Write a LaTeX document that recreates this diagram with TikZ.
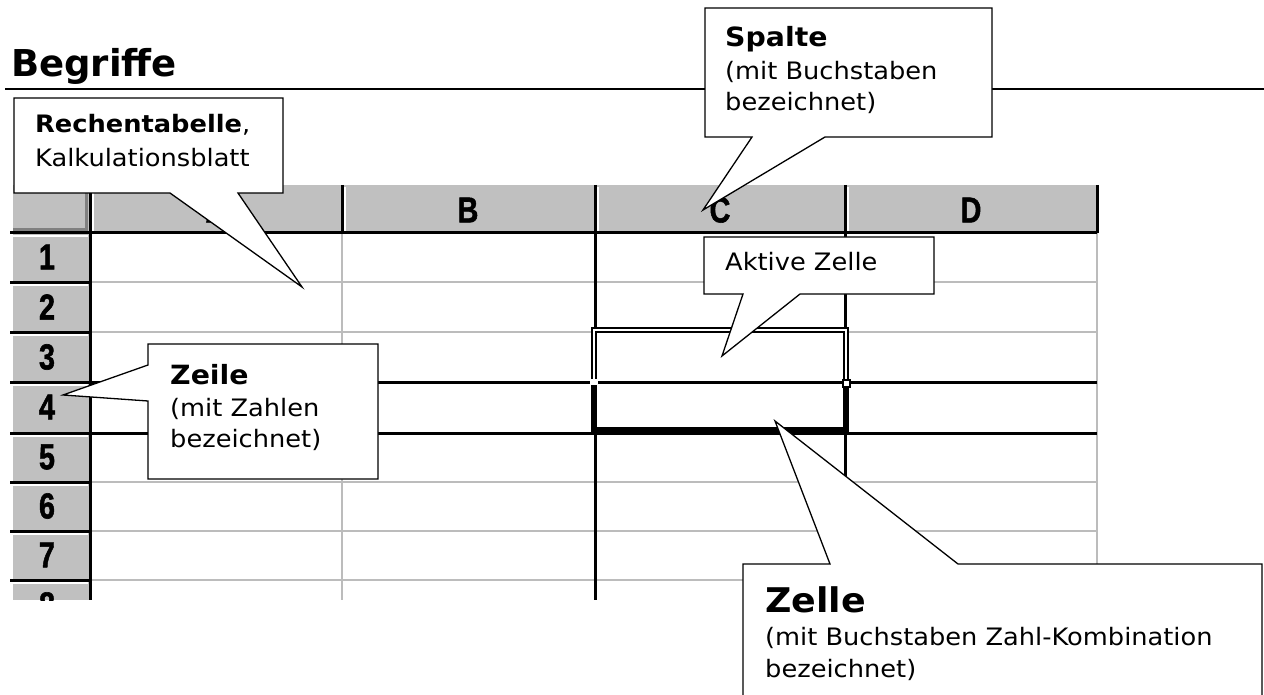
\documentclass[tikz,border=0pt]{standalone}
\usepackage{fontspec}
\setmainfont{DejaVu Sans}[FakeStretch=1.07]
\newfontfamily\titlefont{DejaVu Sans}
\newfontfamily\gridfont{Liberation Sans}[FakeBold=1.6]

\definecolor{headgray}{RGB}{192,192,192}
\definecolor{linegray}{RGB}{188,188,188}
\definecolor{shadegray}{RGB}{128,128,128}

% narrow bold letters of the sheet headers
\newcommand{\hdrtext}[1]{\scalebox{0.8}[1]{#1}}

\tikzset{
  txt/.style={anchor=base west, inner sep=0pt, font=\fontsize{24}{24}\selectfont},
  boldtxt/.style={txt, font=\fontsize{26.5}{26.5}\selectfont\bfseries},
  bubble/.style={draw=black, fill=white, line width=1.3pt, line join=miter},
  hdr/.style={inner sep=0pt, font=\gridfont\fontsize{36}{36}\selectfont\bfseries},
  gridthin/.style={linegray, line width=2.5pt},
  gridthick/.style={black, line width=3pt},
}

\begin{document}
\begin{tikzpicture}[x=1pt, y=-1pt]
  \useasboundingbox (0,0) rectangle (1264,695);
  \clip (0,0) rectangle (1264,695);

  % title with rule
  \node[anchor=base west, inner sep=0pt, font=\titlefont\fontsize{37}{37}\selectfont\bfseries]
    (title) at (11,77) {Begriffe};
  \draw[line width=2.8pt] (5,89) -- (1264,89);

  % the sheet
  \begin{scope}
    \clip (0,180) rectangle (1264,600);
    \fill[headgray] (13,185) rectangle (1097,233);
    \fill[headgray] (13,233) rectangle (90,600);
    \draw[shadegray, line width=3pt] (86,188) -- (86,230) -- (13,230);
    \foreach \x in {90,342,595,845}
      \draw[white, line width=1.5pt] (\x+3,187) -- (\x+3,231);
    \foreach \y in {233,282,332,382,433,482,531,580}
      \draw[white, line width=1.5pt] (13,\y+3) -- (88,\y+3);

    % light cell lines
    \foreach \y in {282,332,482,531,580}
      \draw[gridthin] (90,\y) -- (1097,\y);
    \foreach \x in {342,1097}
      \draw[gridthin] (\x,233) -- (\x,600);

    % dark lines
    \foreach \y in {282,332,482,531,580}
      \draw[gridthick] (10,\y) -- (90,\y);
    \foreach \y in {233,382,433}
      \draw[gridthick] (10,\y) -- (1097,\y);
    \foreach \x in {90,595,845}
      \draw[gridthick] (\x,185) -- (\x,600);
    \foreach \x in {342,1097}
      \draw[gridthick] (\x,185) -- (\x,233);

    % active cell frame
    \draw[line width=6pt, line join=miter] (594,330) rectangle (846,430);
    \draw[white, line width=2pt] (594,382) -- (594,330) -- (846,330) -- (846,382);
    \fill[white] (590,379) rectangle (598,385);
    \fill (842,379) rectangle (851,388);
    \fill[white] (844,381) rectangle (849,386);

    % headers
    \foreach \c/\x in {A/216,B/468,C/720,D/971}
      \node[hdr] (col\c) at (\x,210) {\hdrtext{\c}};
    \foreach \r/\y in {1/257,2/307,3/357,4/407,5/457,6/506,7/555,8/605}
      \node[hdr] (row\r) at (47,\y) {\hdrtext{\r}};
  \end{scope}

  % callouts
  \draw[bubble] (14,98) -- (283,98) -- (283,193) -- (238,193) -- (302,287)
    -- (170,193) -- (14,193) -- cycle;
  \node[txt] (tab1) at (35,133) {{\bfseries Rechentabelle},};
  \node[txt] (tab2) at (35,167) {Kalkulationsblatt};

  \draw[bubble] (705,8) -- (992,8) -- (992,137) -- (825,137) -- (703,210)
    -- (752,137) -- (705,137) -- cycle;
  \node[boldtxt] (spalte1) at (725,47) {Spalte};
  \node[txt] (spalte2) at (725,80) {(mit Buchstaben};
  \node[txt] (spalte3) at (725,111) {bezeichnet)};

  \draw[bubble] (704,237) -- (934,237) -- (934,294) -- (800,294) -- (722,356)
    -- (743,294) -- (704,294) -- cycle;
  \node[txt] (aktiv) at (725,271) {Aktive Zelle};

  \draw[bubble] (148,344) -- (378,344) -- (378,479) -- (148,479) -- (148,401)
    -- (63,395) -- (148,365) -- cycle;
  \node[boldtxt] (zeile1) at (170,384) {Zeile};
  \node[txt] (zeile2) at (170,416) {(mit Zahlen};
  \node[txt] (zeile3) at (170,447) {bezeichnet)};

  \draw[bubble] (743,564) -- (830,564) -- (775,421) -- (958,564) -- (1262,564)
    -- (1262,700) -- (743,700) -- cycle;
  \node[boldtxt, font=\fontsize{34}{34}\selectfont\bfseries] (zelle1) at (765,612) {Zelle};
  \node[txt] (zelle2) at (765,645) {(mit Buchstaben Zahl-Kombination};
  \node[txt] (zelle3) at (765,677) {bezeichnet)};
\end{tikzpicture}
\end{document}
